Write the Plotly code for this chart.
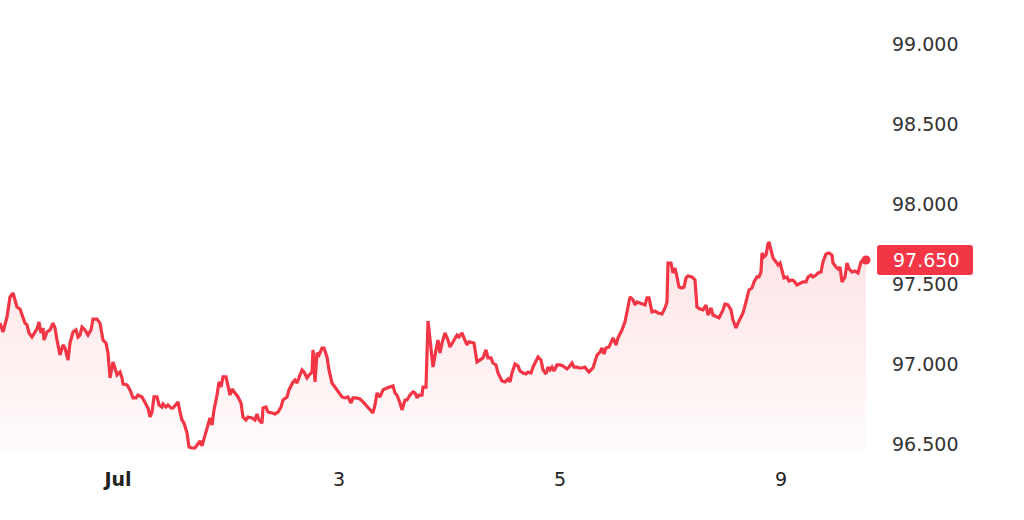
"""Intraday price line with gradient area, last-price tag on the right axis."""
import plotly.graph_objects as go

# time step (chart bar index) and price
t = [
    0, 3, 7, 10, 13, 15, 17, 20, 23, 25, 27, 29, 32, 35, 37, 39, 41, 43, 44, 47,
    50, 53, 55, 57, 60, 63, 65, 68, 70, 73, 76, 78, 80, 82, 85, 88, 91, 93, 97, 100,
    103, 106, 108, 110, 112, 113, 115, 117, 120, 122, 123, 127, 130, 133, 136, 138, 142, 145, 148, 150,
    152, 154, 157, 159, 162, 163, 166, 168, 171, 173, 176, 178, 180, 182, 184, 187, 189, 192, 195, 198,
    200, 202, 205, 208, 210, 212, 214, 217, 219, 221, 223, 226, 228, 230, 232, 235, 238, 241, 243, 246,
    248, 252, 255, 257, 259, 262, 263, 266, 268, 272, 275, 278, 281, 283, 287, 289, 292, 293, 295, 297,
    300, 302, 304, 307, 309, 312, 313, 315, 317, 319, 322, 324, 327, 329, 332, 335, 338, 342, 345, 348,
    351, 353, 356, 360, 363, 367, 370, 373, 375, 377, 380, 383, 387, 390, 393, 395, 397, 400, 402, 405,
    407, 410, 413, 415, 417, 419, 422, 423, 426, 428, 431, 433, 436, 438, 440, 442, 445, 448, 450, 453,
    457, 459, 462, 464, 467, 469, 472, 474, 477, 480, 483, 486, 488, 491, 493, 496, 498, 502, 505, 508,
    510, 512, 515, 518, 520, 523, 526, 528, 531, 533, 536, 538, 541, 543, 546, 548, 550, 552, 554, 557,
    560, 563, 567, 569, 572, 574, 577, 579, 582, 585, 587, 589, 593, 595, 597, 600, 602, 604, 606, 609,
    612, 613, 616, 618, 622, 625, 627, 630, 633, 635, 637, 640, 643, 645, 647, 649, 652, 655, 658, 662,
    665, 667, 668, 671, 673, 675, 677, 679, 682, 684, 686, 688, 692, 695, 697, 700, 703, 706, 708, 711,
    713, 717, 719, 723, 725, 728, 731, 733, 736, 738, 741, 743, 746, 749, 752, 754, 757, 759, 761, 762,
    764, 766, 768, 769, 771, 773, 776, 778, 780, 782, 784, 787, 789, 792, 794, 797, 800, 803, 806, 808,
    811, 813, 816, 818, 821, 823, 826, 829, 832, 833, 836, 838, 840, 842, 845, 847, 849, 852, 855, 858,
    861, 863, 866,
]
price = [
    97.256, 97.200, 97.294, 97.419, 97.444, 97.400, 97.356, 97.344, 97.288, 97.256,
    97.244, 97.194, 97.169, 97.194, 97.219, 97.263, 97.194, 97.225, 97.150, 97.200,
    97.213, 97.256, 97.225, 97.150, 97.056, 97.119, 97.100, 97.025, 97.131, 97.200,
    97.213, 97.169, 97.181, 97.231, 97.213, 97.181, 97.213, 97.281, 97.281, 97.256,
    97.150, 97.131, 97.069, 96.913, 96.981, 97.013, 96.975, 96.931, 96.950, 96.913,
    96.875, 96.869, 96.838, 96.788, 96.788, 96.806, 96.794, 96.763, 96.725, 96.669,
    96.700, 96.794, 96.794, 96.744, 96.731, 96.750, 96.731, 96.744, 96.725, 96.725,
    96.750, 96.763, 96.700, 96.650, 96.631, 96.569, 96.481, 96.475, 96.475, 96.506,
    96.519, 96.488, 96.556, 96.619, 96.663, 96.619, 96.713, 96.806, 96.888, 96.856,
    96.919, 96.919, 96.856, 96.806, 96.844, 96.819, 96.794, 96.756, 96.669, 96.650,
    96.669, 96.663, 96.650, 96.688, 96.650, 96.631, 96.725, 96.731, 96.700, 96.694,
    96.688, 96.700, 96.731, 96.775, 96.794, 96.838, 96.881, 96.888, 96.900, 96.881,
    96.931, 96.963, 96.950, 96.913, 96.931, 96.950, 97.088, 96.888, 97.069, 97.056,
    97.100, 97.100, 97.044, 96.963, 96.881, 96.856, 96.825, 96.794, 96.788, 96.794,
    96.756, 96.788, 96.788, 96.781, 96.763, 96.738, 96.713, 96.694, 96.744, 96.819,
    96.794, 96.838, 96.850, 96.856, 96.863, 96.819, 96.806, 96.756, 96.713, 96.775,
    96.775, 96.806, 96.825, 96.819, 96.788, 96.806, 96.806, 96.856, 96.856, 97.269,
    97.106, 96.981, 97.088, 97.150, 97.069, 97.131, 97.194, 97.150, 97.106, 97.138,
    97.181, 97.169, 97.194, 97.163, 97.119, 97.138, 97.131, 97.131, 97.013, 97.025,
    97.038, 97.088, 97.038, 97.038, 97.006, 96.994, 96.944, 96.894, 96.888, 96.906,
    96.888, 96.944, 97.000, 96.988, 96.956, 96.944, 96.938, 96.950, 96.944, 96.981,
    97.025, 97.044, 97.025, 96.963, 96.938, 96.981, 96.963, 96.981, 96.956, 96.994,
    96.994, 96.988, 96.969, 96.981, 97.006, 96.981, 96.981, 96.975, 96.975, 96.981,
    96.963, 96.950, 96.975, 97.013, 97.056, 97.075, 97.100, 97.063, 97.100, 97.106,
    97.150, 97.163, 97.119, 97.163, 97.213, 97.263, 97.325, 97.419, 97.400, 97.369,
    97.388, 97.381, 97.375, 97.369, 97.413, 97.413, 97.325, 97.331, 97.319, 97.313,
    97.350, 97.388, 97.631, 97.631, 97.569, 97.600, 97.544, 97.481, 97.475, 97.481,
    97.538, 97.550, 97.544, 97.525, 97.356, 97.344, 97.338, 97.369, 97.306, 97.350,
    97.306, 97.294, 97.288, 97.338, 97.375, 97.369, 97.338, 97.275, 97.225, 97.256,
    97.300, 97.319, 97.388, 97.463, 97.475, 97.513, 97.544, 97.544, 97.575, 97.694,
    97.669, 97.681, 97.750, 97.763, 97.713, 97.663, 97.638, 97.619, 97.631, 97.575,
    97.538, 97.544, 97.519, 97.525, 97.519, 97.494, 97.506, 97.513, 97.513, 97.544,
    97.556, 97.544, 97.556, 97.569, 97.575, 97.638, 97.688, 97.694, 97.681, 97.631,
    97.606, 97.594, 97.606, 97.513, 97.544, 97.631, 97.594, 97.575, 97.581, 97.569,
    97.638, 97.650, 97.650,
]

x_tick_pos = [118, 339, 560, 781]
x_tick_text = ["<b>Jul</b>", "3", "5", "9"]
y_ticks = [96.5, 97.0, 97.5, 98.0, 98.5, 99.0]
last_label = "97.650"

RED = "#F23645"
FONT = "DejaVu Sans"

fig = go.Figure()
fig.add_trace(
    go.Scatter(
        x=t,
        y=price,
        mode="lines",
        line=dict(color=RED, width=3.2),
        fill="tozeroy",
        fillgradient=dict(
            type="vertical",
            start=96.45,
            stop=97.77,
            colorscale=[[0, "rgba(242,54,69,0.02)"], [1, "rgba(242,54,69,0.14)"]],
        ),
        hoverinfo="skip",
    )
)
# last price dot
fig.add_trace(
    go.Scatter(
        x=t[-1:],
        y=price[-1:],
        mode="markers",
        marker=dict(color=RED, size=9),
        hoverinfo="skip",
    )
)

# rounded tag behind the last price on the axis
r = 3
w, h = 95, 15
tag = (
    f"M {-1 + r},{-h} L {w - r},{-h} Q {w},{-h} {w},{-h + r} "
    f"L {w},{h - r} Q {w},{h} {w - r},{h} L {-1 + r},{h} "
    f"Q -1,{h} -1,{h - r} L -1,{-h + r} Q -1,{-h} {-1 + r},{-h} Z"
)
fig.add_shape(
    type="path",
    xref="paper",
    yref="y",
    xsizemode="pixel",
    ysizemode="pixel",
    xanchor=1,
    yanchor=price[-1],
    path=tag,
    fillcolor=RED,
    line=dict(width=0),
    layer="above",
)
fig.add_annotation(
    xref="paper",
    yref="y",
    x=1,
    y=price[-1],
    xanchor="left",
    xshift=13,
    text=last_label,
    showarrow=False,
    font=dict(family=FONT, size=19, color="white"),
)

fig.update_layout(
    width=1024,
    height=520,
    margin=dict(l=0, r=146, t=12, b=68),
    paper_bgcolor="white",
    plot_bgcolor="white",
    showlegend=False,
    font=dict(family=FONT, size=19, color="#333333"),
    hovermode=False,
)
fig.update_xaxes(
    range=[0, 878],
    tickvals=x_tick_pos,
    ticktext=x_tick_text,
    showgrid=False,
    zeroline=False,
    showline=False,
    ticklabelstandoff=14,
    tickfont=dict(color="#222222"),
)
fig.update_yaxes(
    side="right",
    range=[96.45, 99.2],
    tickvals=y_ticks,
    tickformat=".3f",
    showgrid=False,
    zeroline=False,
    showline=False,
    ticklabelstandoff=13,
)

# the page body has an 8px default margin; drop it so the chart sits flush
fig.write_html(
    "out.html",
    config={"displayModeBar": False},
    post_script="document.body.style.margin='0';",
)
